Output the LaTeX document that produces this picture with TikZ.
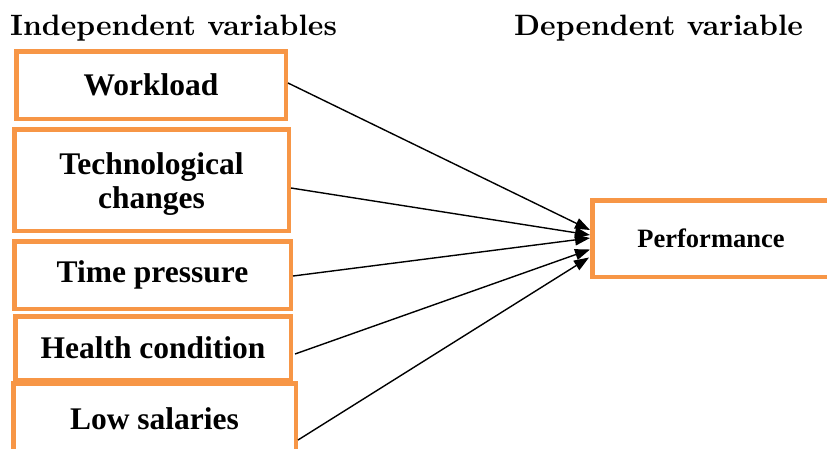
\documentclass[tikz,border=0pt]{standalone}
\usepackage{fontspec}
\newfontfamily\tnr{Liberation Serif}
\newfontfamily\hdrfont{lmroman10-bold.otf}
\usetikzlibrary{arrows.meta}
\definecolor{acc}{HTML}{F79646}
\tikzset{
  ivbox/.style={draw=acc, line width=4.5pt, rectangle, inner sep=0pt, align=center,
    font=\tnr\bfseries\fontsize{31.5}{34}\selectfont},
  hdr/.style={anchor=base west, inner sep=0pt, font=\hdrfont\fontsize{29.5}{30}\selectfont},
  conn/.style={line width=1.4pt, -{Triangle[length=15pt,width=11pt]}}
}
\begin{document}
\begin{tikzpicture}[x=1pt,y=-1pt]
\useasboundingbox (0,0) rectangle (827,448);
\clip (0,0) rectangle (827,448);
\node[hdr] (h1) at (10,35) {Independent variables};
\node[hdr] (h2) at (514,35) {Dependent variable};
\node[ivbox, minimum width=269.5pt, minimum height=67.5pt] (work) at (151,85) {Workload};
\node[ivbox, minimum width=274.5pt, minimum height=101.5pt] (tech) at (151.5,180) {\rule{0pt}{30pt}Technological\\changes};
\node[ivbox, minimum width=276.5pt, minimum height=67.5pt] (time) at (152.5,275) {Time pressure};
\node[ivbox, minimum width=275.5pt, minimum height=63.5pt] (health) at (153,348) {Health condition};
\node[ivbox, minimum width=282.5pt, minimum height=71.5pt] (low) at (154.5,419) {Low salaries};
\node[ivbox, minimum width=237.5pt, minimum height=76.5pt, font=\tnr\bfseries\fontsize{26.5}{28}\selectfont] (perf) at (711,238.5) {Performance};
\coordinate (t1) at ([yshift=8.5pt]perf.west);
\coordinate (t2) at ([yshift=3.5pt]perf.west);
\coordinate (t3) at ([yshift=0.5pt]perf.west);
\coordinate (t4) at ([yshift=-11pt]perf.west);
\coordinate (t5) at ([xshift=-1pt,yshift=-19pt]perf.west);
\draw[conn] ([yshift=2pt]work.east) -- (t1);
\draw[conn] ([yshift=-8pt]tech.east) -- (t2);
\draw[conn] ([yshift=-1pt]time.east) -- (t3);
\draw[conn] ([xshift=2pt,yshift=-6pt]health.east) -- (t4);
\draw[conn] ([yshift=-21pt]low.east) -- (t5);
\end{tikzpicture}
\end{document}
